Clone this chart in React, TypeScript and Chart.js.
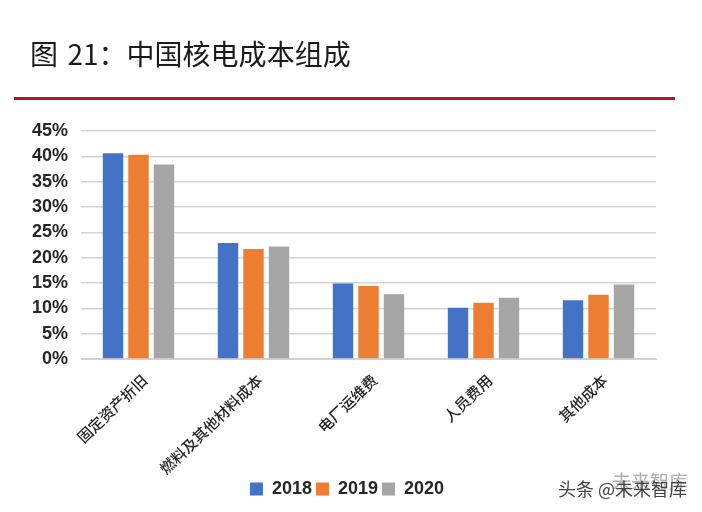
import React, { useEffect, useRef } from "react";
import { Chart, registerables } from "chart.js";

Chart.register(...registerables);

const categories = ["固定资产折旧", "燃料及其他材料成本", "电厂运维费", "人员费用", "其他成本"];
const values2018 = [40.6, 22.9, 14.9, 10.1, 11.6];
const values2019 = [40.3, 21.7, 14.4, 11.1, 12.7];
const values2020 = [38.4, 22.2, 12.8, 12.1, 14.7];
const seriesNames = ["2018", "2019", "2020"];
const seriesColors = ["#4472C4", "#ED7D31", "#A5A5A5"];
const titleText = "图  21：中国核电成本组成";

const shiftLegend = {
  id: "shiftLegend",
  afterLayout(chart: any) {
    if (chart.legend) {
      chart.legend.left = 38;
      chart.legend.right = 656;
    }
  },
};

export default function App() {
  const ref = useRef<HTMLCanvasElement>(null);
  useEffect(() => {
    const chart = new Chart(ref.current!, {
      type: "bar",
      plugins: [shiftLegend],
      data: {
        labels: categories,
        datasets: [values2018, values2019, values2020].map((data, i) => ({
          label: seriesNames[i],
          data,
          backgroundColor: seriesColors[i],
          categoryPercentage: 0.665,
          barPercentage: 0.8,
        })),
      },
      options: {
        responsive: false,
        animation: false,
        layout: { padding: { top: 131, right: 46, left: 0, bottom: 4 } },
        plugins: {
          tooltip: { enabled: false },
          legend: {
            position: "bottom",
            labels: {
              boxWidth: 13,
              boxHeight: 13,
              padding: 4,
              color: "#262626",
              font: { family: "'Liberation Sans'", size: 18, weight: "bold" },
            },
          },
        },
        scales: {
          x: {
            grid: { display: false, drawTicks: false },
            border: { color: "#D0D0D0", width: 1 },
            afterFit: (s: any) => { s.height = 117; },
            ticks: {
              autoSkip: false,
              minRotation: 44,
              maxRotation: 44,
              padding: 12,
              labelOffset: 6,
              color: "#262626",
              font: { family: "'Noto Sans CJK SC'", size: 15, weight: "500" },
            },
          },
          y: {
            min: 0,
            max: 45,
            afterFit: (s: any) => { s.width = 81; },
            grid: { color: "#D4D4D4", lineWidth: 1.5, drawTicks: false },
            border: { display: false },
            ticks: {
              stepSize: 5,
              padding: 13,
              color: "#262626",
              font: { family: "'Liberation Sans'", size: 18, weight: "bold" },
              callback: (v: any) => v + "%",
            },
          },
        },
      },
    });
    return () => chart.destroy();
  }, []);

  return (
    <div style={{ position: "absolute", left: 0, top: 0, width: 702, height: 512, background: "#fff", overflow: "hidden" }}>
      <canvas ref={ref} width={702} height={512} style={{ position: "absolute", left: 0, top: 0 }} />
      <div style={{ position: "absolute", left: 30, top: 33, fontFamily: "'Noto Sans CJK SC'", fontSize: 28, lineHeight: "40px", color: "#1a1a1a", whiteSpace: "pre", wordSpacing: "-1.5px" }}>
        {titleText}
      </div>
      <div style={{ position: "absolute", left: 14, top: 97, width: 661, height: 3, background: "#B5152B" }} />
      <div style={{ position: "absolute", left: 612, top: 470, fontFamily: "'Noto Sans CJK SC'", fontSize: 19, lineHeight: "22px", color: "#B0B0B0", whiteSpace: "pre" }}>
        未来智库
      </div>
      <div style={{ position: "absolute", left: 558, top: 477, fontFamily: "'Noto Sans CJK SC'", fontSize: 18, lineHeight: "22px", color: "#444", whiteSpace: "pre" }}>
        头条 @未来智库
      </div>
    </div>
  );
}
